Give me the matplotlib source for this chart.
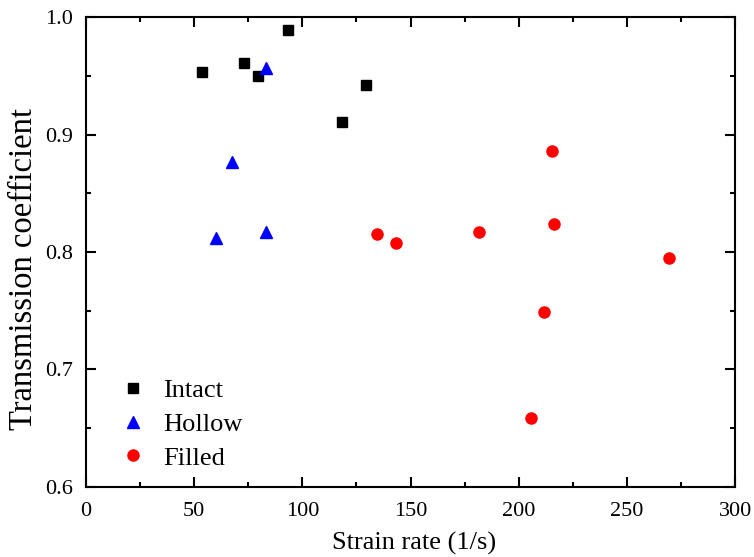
import numpy as np
import matplotlib.pyplot as plt
from matplotlib.ticker import MultipleLocator

plt.rcParams["font.family"] = ["Liberation Serif", "DejaVu Serif"]

# Data
intact_x = [53.5, 73.0, 79.7, 93.5, 118.5, 129.4]
intact_y = [0.953, 0.961, 0.950, 0.989, 0.911, 0.942]

hollow_x = [83.2, 67.5, 60.2, 83.2]
hollow_y = [0.957, 0.877, 0.812, 0.817]

filled_x = [134.4, 143.3, 181.5, 215.4, 216.3, 269.6, 211.6, 205.7]
filled_y = [0.815, 0.808, 0.817, 0.886, 0.824, 0.795, 0.749, 0.659]

fig = plt.figure(figsize=(7.54, 5.57), dpi=100)
ax = fig.add_axes([0.114, 0.126, 0.861, 0.843])

ax.plot(intact_x, intact_y, "s", color="black", markersize=7, label="Intact")
ax.plot(hollow_x, hollow_y, "^", color="blue", markersize=9, label="Hollow")
ax.plot(filled_x, filled_y, "o", color="red", markersize=8, label="Filled")

ax.set_xlim(0, 300)
ax.set_ylim(0.6, 1.0)
ax.xaxis.set_major_locator(MultipleLocator(50))
ax.xaxis.set_minor_locator(MultipleLocator(25))
ax.yaxis.set_major_locator(MultipleLocator(0.1))
ax.yaxis.set_minor_locator(MultipleLocator(0.05))

ax.tick_params(which="both", direction="in", top=True, right=True, width=1.5,
               labelsize=16)
ax.tick_params(which="major", length=7)
ax.tick_params(which="minor", length=3.5)
ax.tick_params(axis="x", pad=11)
ax.tick_params(axis="y", pad=9)
for s in ax.spines.values():
    s.set_linewidth(1.5)

ax.set_xlabel("Strain rate (1/s)", fontsize=19)
ax.set_ylabel("Transmission coefficient", fontsize=23.5)
ax.xaxis.set_label_coords(0.506, -0.095)
ax.yaxis.set_label_coords(-0.072, 0.463)

ax.legend(loc="lower left", frameon=False, fontsize=19, handlelength=1.0,
          handletextpad=0.64, borderaxespad=0, labelspacing=0.39,
          bbox_to_anchor=(0.036, 0.014))

fig.savefig("out.png", dpi=100)
